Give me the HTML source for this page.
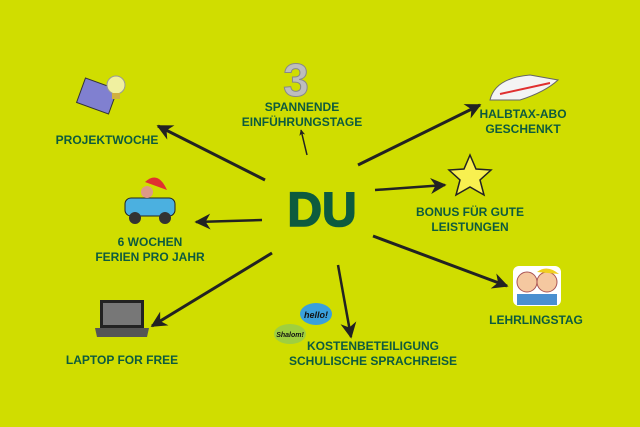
<!DOCTYPE html>
<html><head><meta charset="utf-8"><style>
body{margin:0;background:#d0dd00;}
svg{display:block}
text{font-family:"Liberation Sans",sans-serif;font-weight:bold;fill:#0d5b3e;text-anchor:middle;font-size:12px}
</style></head><body>
<svg width="640" height="427" viewBox="0 0 640 427" xmlns="http://www.w3.org/2000/svg">
<defs><marker id="a" viewBox="0 0 10 10" refX="9" refY="5" markerWidth="8" markerHeight="6" orient="auto" markerUnits="userSpaceOnUse"><path d="M0,0 L10,5 L0,10 L3,5z" fill="#222"/></marker>
<marker id="b" viewBox="0 0 10 10" refX="9" refY="5" markerWidth="26" markerHeight="16" orient="auto" markerUnits="userSpaceOnUse"><path d="M0,0 L10,5 L0,10 L3,5z" fill="#222"/></marker></defs>
<rect width="640" height="427" fill="#d0dd00"/>
<g stroke="#222" stroke-width="3" fill="none">
<line x1="265" y1="180" x2="158" y2="126" marker-end="url(#b)"/>
<line x1="358" y1="165" x2="480" y2="105" marker-end="url(#b)"/>
<line x1="375" y1="190" x2="445" y2="185" marker-end="url(#b)" stroke-width="2.5"/>
<line x1="373" y1="236" x2="507" y2="286" marker-end="url(#b)"/>
<line x1="338" y1="265" x2="351" y2="337" marker-end="url(#b)" stroke-width="2.5"/>
<line x1="272" y1="253" x2="152" y2="326" marker-end="url(#b)"/>
<line x1="262" y1="220" x2="196" y2="222" marker-end="url(#b)" stroke-width="2.5"/>
<line x1="307" y1="155" x2="301" y2="130" marker-end="url(#a)" stroke-width="1.5"/>
</g>
<text x="322" y="226" style="font-size:48px;font-weight:900;stroke:#0d5b3e;stroke-width:1.5">DU</text>
<text x="302" y="111">SPANNENDE</text><text x="302" y="126">EINFÜHRUNGSTAGE</text>
<text x="107" y="144">PROJEKTWOCHE</text>
<text x="150" y="246">6 WOCHEN</text><text x="150" y="261">FERIEN PRO JAHR</text>
<text x="122" y="364">LAPTOP FOR FREE</text>
<text x="373" y="350">KOSTENBETEILIGUNG</text><text x="373" y="365">SCHULISCHE SPRACHREISE</text>
<text x="523" y="118">HALBTAX-ABO</text><text x="523" y="133">GESCHENKT</text>
<text x="470" y="216">BONUS FÜR GUTE</text><text x="470" y="231">LEISTUNGEN</text>
<text x="536" y="324">LEHRLINGSTAG</text>
<text x="296" y="96" style="font-size:46px;fill:#bdbdbd;stroke:#888;stroke-width:1">3</text>
<g transform="translate(80,75)"><rect x="0" y="8" width="34" height="26" fill="#8080d0" stroke="#333" transform="rotate(20 17 21)"/><circle cx="36" cy="10" r="9" fill="#f0f0a0" stroke="#999"/><rect x="32" y="18" width="8" height="6" fill="#d0b040"/></g>
<g transform="translate(125,180)"><rect x="0" y="18" width="50" height="18" rx="6" fill="#4bb0e0" stroke="#222"/><circle cx="10" cy="38" r="6" fill="#333"/><circle cx="40" cy="38" r="6" fill="#333"/><path d="M20,2 Q33,-10 42,10z" fill="#e03030"/><circle cx="22" cy="12" r="6" fill="#d98"/></g>
<g transform="translate(95,300)"><rect x="5" y="0" width="44" height="28" fill="#222"/><rect x="8" y="3" width="38" height="22" fill="#777"/><path d="M0,28 H54 L52,37 H2z" fill="#555"/></g>
<g transform="translate(268,302)"><ellipse cx="48" cy="12" rx="16" ry="11" fill="#3aa0dc"/><text x="48" y="16" style="font-size:9px;fill:#111;font-style:italic">hello!</text><ellipse cx="22" cy="32" rx="16" ry="10" fill="#9fcf40"/><text x="22" y="35" style="font-size:7px;fill:#111;font-style:italic">Shalom!</text></g>
<g transform="translate(490,70)"><path d="M0,30 Q5,8 40,5 L68,10 Q55,22 30,30z" fill="#f4f4f4" stroke="#666"/><path d="M10,24 L60,13" stroke="#e03030" stroke-width="2"/></g>
<polygon points="470,155 476,169 491,170 480,180 484,195 470,187 456,195 460,180 449,170 464,169" fill="#f8f050" stroke="#222" stroke-width="1.5"/>
<g transform="translate(513,266)"><rect x="0" y="0" width="48" height="40" rx="6" fill="#fff"/><circle cx="14" cy="16" r="10" fill="#f5c8a0" stroke="#a55"/><circle cx="34" cy="16" r="10" fill="#f5c8a0" stroke="#a55"/><rect x="4" y="28" width="40" height="11" fill="#4a8fd0"/><path d="M24,6 Q34,-2 46,8z" fill="#f0d020"/></g>
</svg>
</body></html>
